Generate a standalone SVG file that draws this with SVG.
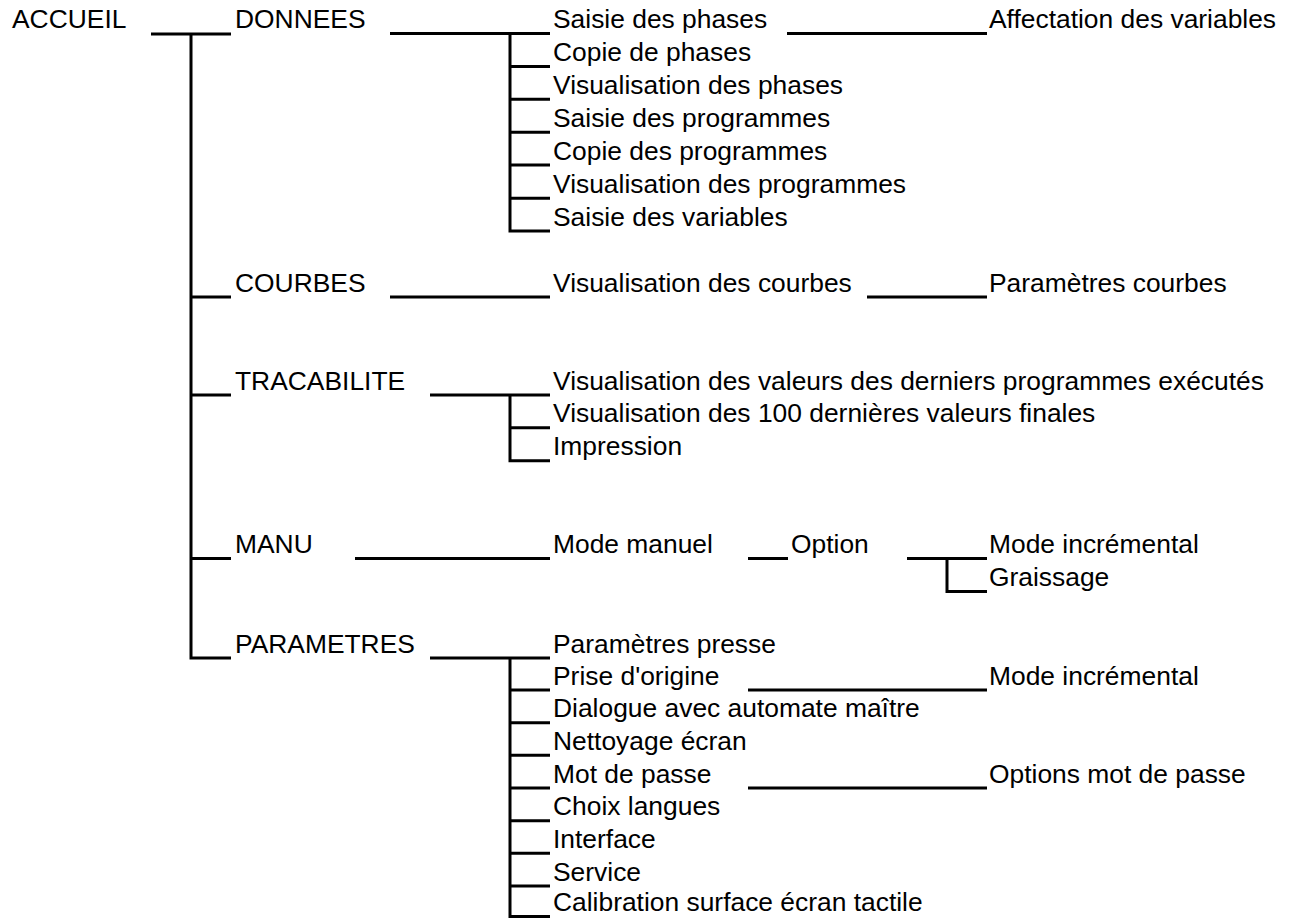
<svg xmlns="http://www.w3.org/2000/svg" width="1296" height="919" viewBox="0 0 1296 919">
<style>
text{font-family:"Liberation Sans",Arial,sans-serif;font-size:26.4px;fill:#000}
.c path,.c line{stroke:#000;stroke-width:3;fill:none;stroke-linejoin:miter}
</style>
<rect width="1296" height="919" fill="#fff"/>
<g class="c" id="connectors">
<line x1="151" y1="34" x2="231" y2="34"/>
<path d="M191 34 V658 H231"/>
<line x1="191" y1="297" x2="231" y2="297"/>
<line x1="191" y1="395" x2="231" y2="395"/>
<line x1="191" y1="558.5" x2="231" y2="558.5"/>
<line x1="390" y1="33.5" x2="550" y2="33.5"/>
<line x1="787" y1="33.5" x2="987" y2="33.5"/>
<path d="M510 33.5 V231 H550"/>
<line x1="510" y1="66.5" x2="550" y2="66.5"/>
<line x1="510" y1="99.3" x2="550" y2="99.3"/>
<line x1="510" y1="132.2" x2="550" y2="132.2"/>
<line x1="510" y1="165" x2="550" y2="165"/>
<line x1="510" y1="198.2" x2="550" y2="198.2"/>
<line x1="390" y1="297" x2="550" y2="297"/>
<line x1="867" y1="297" x2="987" y2="297"/>
<line x1="430" y1="395" x2="550" y2="395"/>
<path d="M510 395 V460.7 H550"/>
<line x1="510" y1="427.7" x2="550" y2="427.7"/>
<line x1="355" y1="558.5" x2="550" y2="558.5"/>
<line x1="748" y1="558.5" x2="788" y2="558.5"/>
<line x1="907" y1="558.5" x2="987" y2="558.5"/>
<path d="M947 558.5 V591.5 H987"/>
<line x1="430" y1="658" x2="550" y2="658"/>
<path d="M510 658 V916.5 H550"/>
<line x1="510" y1="690" x2="550" y2="690"/>
<line x1="510" y1="722.7" x2="550" y2="722.7"/>
<line x1="510" y1="755.3" x2="550" y2="755.3"/>
<line x1="510" y1="788" x2="550" y2="788"/>
<line x1="510" y1="820.7" x2="550" y2="820.7"/>
<line x1="510" y1="853.3" x2="550" y2="853.3"/>
<line x1="510" y1="886" x2="550" y2="886"/>
<line x1="748" y1="690" x2="987" y2="690"/>
<line x1="748" y1="788" x2="987" y2="788"/>
</g>
<g id="accueil"><text x="12" y="27.5">ACCUEIL</text></g>
<g id="donnees"><text x="235" y="28">DONNEES</text></g>
<g id="donnees-children">
<text x="553" y="28">Saisie des phases</text>
<text x="553" y="61">Copie de phases</text>
<text x="553" y="93.8">Visualisation des phases</text>
<text x="553" y="126.7">Saisie des programmes</text>
<text x="553" y="159.5">Copie des programmes</text>
<text x="553" y="192.7">Visualisation des programmes</text>
<text x="553" y="225.5">Saisie des variables</text>
</g>
<g id="affectation"><text x="989" y="28">Affectation des variables</text></g>
<g id="courbes"><text x="235" y="291.5">COURBES</text></g>
<g id="courbes-children"><text x="553" y="291.5">Visualisation des courbes</text></g>
<g id="parametres-courbes"><text x="989" y="291.5">Paramètres courbes</text></g>
<g id="tracabilite"><text x="235" y="389.5">TRACABILITE</text></g>
<g id="tracabilite-children">
<text x="553" y="389.5">Visualisation des valeurs des derniers programmes exécutés</text>
<text x="553" y="422.2">Visualisation des 100 dernières valeurs finales</text>
<text x="553" y="455.2">Impression</text>
</g>
<g id="manu"><text x="235" y="553">MANU</text></g>
<g id="mode-manuel"><text x="553" y="553">Mode manuel</text></g>
<g id="option"><text x="791" y="553">Option</text></g>
<g id="option-children">
<text x="989" y="553">Mode incrémental</text>
<text x="989" y="586">Graissage</text>
</g>
<g id="parametres"><text x="235" y="652.5">PARAMETRES</text></g>
<g id="parametres-children">
<text x="553" y="652.5">Paramètres presse</text>
<text x="553" y="684.5">Prise d'origine</text>
<text x="553" y="717.2">Dialogue avec automate maître</text>
<text x="553" y="749.8">Nettoyage écran</text>
<text x="553" y="782.5">Mot de passe</text>
<text x="553" y="815.2">Choix langues</text>
<text x="553" y="847.8">Interface</text>
<text x="553" y="880.5">Service</text>
<text x="553" y="911">Calibration surface écran tactile</text>
</g>
<g id="prise-children"><text x="989" y="684.5">Mode incrémental</text></g>
<g id="mot-de-passe-children"><text x="989" y="782.5">Options mot de passe</text></g>
</svg>
